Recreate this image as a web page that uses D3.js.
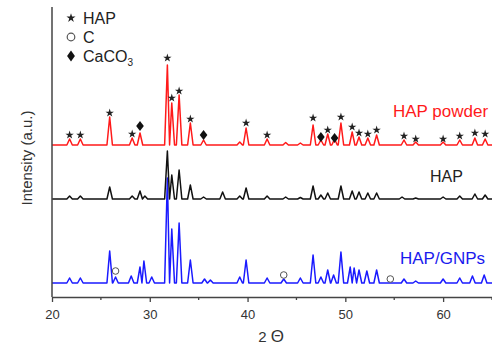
<!DOCTYPE html>
<html>
<head>
<meta charset="utf-8">
<script src="https://cdn.jsdelivr.net/npm/d3@7"></script>
<style>
  html, body { margin: 0; padding: 0; background: #fff; }
  svg { display: block; font-family: "Liberation Sans", Arial, sans-serif; }
</style>
</head>
<body>
<svg id="chart" width="492" height="346"></svg>
<script>
// ---- data (2θ in degrees, intensity in arbitrary units above each trace's baseline) ----
const xTicksMajor = [20, 30, 40, 50, 60];
const xTicksMinor = [25, 35, 45, 55, 65];

const seriesNames = ["HAP powder", "HAP", "HAP/GNPs"];
const seriesOffsets = [1520, 980, 140];

const redPeaks = [[21.8,60],[22.9,60],[25.9,280],[28.2,70],[29.0,120],[31.8,800],[32.25,420],[33.0,500],[34.15,220],[35.5,50],[39.2,30],[39.85,170],[42.0,60],[43.9,25],[45.4,20],[46.7,200],[47.5,50],[48.2,110],[48.9,60],[49.55,220],[50.7,130],[51.4,80],[52.3,70],[53.2,100],[56.0,50],[57.2,30],[60.0,30],[61.7,50],[63.25,70],[64.3,60]];
const blackPeaks = [[21.8,30],[22.9,30],[25.9,120],[28.2,30],[29.0,80],[29.5,30],[31.8,480],[32.25,240],[33.0,290],[34.15,140],[35.5,20],[37.45,70],[39.2,30],[39.85,110],[42.0,30],[43.9,20],[45.4,15],[46.7,130],[47.5,40],[48.2,60],[49.55,130],[50.7,80],[51.4,70],[52.3,60],[53.2,60],[55.8,20],[57.2,10],[60.0,20],[61.7,30],[63.25,50],[64.3,40]];
const bluePeaks = [[21.8,50],[22.9,50],[25.9,320],[26.5,60],[28.1,70],[29.0,160],[29.4,220],[30.2,60],[31.8,1050],[32.25,540],[33.0,600],[34.15,230],[35.6,40],[36.2,30],[39.2,60],[39.85,230],[42.0,50],[43.7,40],[45.4,50],[46.7,280],[47.5,60],[48.2,130],[48.8,80],[49.55,310],[50.5,160],[50.9,150],[51.4,130],[52.2,120],[53.2,130],[56.0,40],[57.2,20],[60.0,40],[61.7,50],[63.0,70],[64.2,80]];

// markers: [2θ, height above trace baseline]
const redStars = [[21.8,100],[22.9,100],[25.9,320],[28.2,110],[31.8,870],[32.25,470],[33.0,540],[34.15,260],[39.85,220],[42.0,100],[46.7,270],[48.2,150],[49.55,280],[50.7,180],[51.4,120],[52.3,110],[53.2,150],[56.0,90],[57.2,60],[60.0,60],[61.7,90],[63.25,120],[64.3,110]];
const redDiamonds = [[29.0,190],[35.5,100],[47.5,80],[48.9,70]];
const blueCircles = [[26.5,120],[43.7,80],[54.6,40]];

const legendItems = ["HAP", "C", "CaCO"];

// ---- layout ----
const svg = d3.select("#chart");
const x = d3.scaleLinear().domain([20, 65]).range([52, 492]);
const y = d3.scaleLinear().domain([0, 2900]).range([297, 7]);

function tracePoints(peaks) {
  const w = 0.28;
  const sorted = peaks.slice().sort((a, b) => a[0] - b[0]);
  const pts = [[20, 0]];
  sorted.forEach(([p, h], i) => {
    const prev = sorted[i - 1];
    const next = sorted[i + 1];
    if (prev && prev[0] + w > p - w) {
      pts.push([(prev[0] + p) / 2, 0]);
    } else {
      pts.push([p - w, 0]);
    }
    pts.push([p, h]);
    if (!(next && p + w > next[0] - w)) pts.push([p + w, 0]);
  });
  pts.push([65, 0]);
  return pts;
}

function drawTrace(peaks, offset, color) {
  const line = d3.line()
    .x(d => x(d[0]))
    .y(d => y(d[1] + offset))
    .curve(d3.curveLinear);
  svg.append("path")
    .datum(tracePoints(peaks))
    .attr("d", line)
    .attr("fill", "none")
    .attr("stroke", color)
    .attr("stroke-width", 1.5)
    .attr("stroke-linejoin", "round");
}

drawTrace(redPeaks, seriesOffsets[0], "#ff1a1a");
drawTrace(bluePeaks, seriesOffsets[2], "#1a1aff");
drawTrace(blackPeaks, seriesOffsets[1], "#111111");

// ---- markers ----
const starSym = d3.symbol().type(d3.symbolStar).size(22);
const diamondSym = d3.symbol().type(d3.symbolDiamond).size(30);

svg.append("g").selectAll("path").data(redStars).join("path")
  .attr("d", starSym)
  .attr("transform", d => `translate(${x(d[0])},${y(d[1] + seriesOffsets[0])})`)
  .attr("fill", "#222");

svg.append("g").selectAll("path").data(redDiamonds).join("path")
  .attr("d", diamondSym)
  .attr("transform", d => `translate(${x(d[0])},${y(d[1] + seriesOffsets[0])}) scale(1.3,1)`)
  .attr("fill", "#111");

svg.append("g").selectAll("circle").data(blueCircles).join("circle")
  .attr("cx", d => x(d[0]))
  .attr("cy", d => y(d[1] + seriesOffsets[2]))
  .attr("r", 3.3)
  .attr("fill", "#fff")
  .attr("stroke", "#555")
  .attr("stroke-width", 1);

// ---- axes ----
const axisColor = "#444";
const xAxis = svg.append("g").attr("transform", `translate(0,${y(0)})`)
  .call(d3.axisBottom(x).tickValues(xTicksMajor).tickSize(5).tickSizeOuter(0).tickFormat(d3.format("d")));
xAxis.select(".domain").attr("stroke", axisColor).attr("stroke-width", 1.5);
xAxis.selectAll(".tick line").attr("stroke", axisColor).attr("stroke-width", 1.3);
xAxis.selectAll(".tick text")
  .attr("font-size", 13).attr("fill", "#333")
  .attr("font-family", "Liberation Sans, Arial, sans-serif")
  .attr("dy", null).attr("y", 22);

svg.append("g").attr("transform", `translate(0,${y(0)})`)
  .selectAll("line").data(xTicksMinor).join("line")
  .attr("x1", d => x(d)).attr("x2", d => x(d))
  .attr("y1", 0).attr("y2", 3)
  .attr("stroke", axisColor).attr("stroke-width", 1.3);

svg.append("line")
  .attr("x1", x(20)).attr("x2", x(20))
  .attr("y1", y(2900)).attr("y2", y(0))
  .attr("stroke", axisColor).attr("stroke-width", 1.5);

// axis titles
const xt = svg.append("text")
  .attr("x", 271).attr("y", 342)
  .attr("text-anchor", "middle")
  .attr("font-size", 15).attr("fill", "#333");
xt.append("tspan").text("2 ");
xt.append("tspan").attr("font-size", 17).text("Θ");

svg.append("text")
  .attr("transform", "translate(32,158) rotate(-90)")
  .attr("text-anchor", "middle")
  .attr("font-size", 15).attr("fill", "#333")
  .text("Intensity (a.u.)");

// ---- series labels ----
svg.append("text").attr("x", 393).attr("y", 117)
  .attr("font-size", 17).attr("fill", "#ff1a1a").text(seriesNames[0]);
svg.append("text").attr("x", 430).attr("y", 182)
  .attr("font-size", 16).attr("fill", "#222").text(seriesNames[1]);
svg.append("text").attr("x", 400).attr("y", 264)
  .attr("font-size", 17).attr("fill", "#1a1aee").text(seriesNames[2]);

// ---- legend ----
const lg = svg.append("g");
lg.append("path").attr("d", d3.symbol().type(d3.symbolStar).size(26)())
  .attr("transform", "translate(71,18)").attr("fill", "#222");
lg.append("circle").attr("cx", 71).attr("cy", 37).attr("r", 3.8)
  .attr("fill", "#fff").attr("stroke", "#555").attr("stroke-width", 1.2);
lg.append("path").attr("d", d3.symbol().type(d3.symbolDiamond).size(34)())
  .attr("transform", "translate(71,56) scale(1.25,1)").attr("fill", "#111");

lg.append("text").attr("x", 83).attr("y", 24).attr("font-size", 16).attr("fill", "#222").text(legendItems[0]);
lg.append("text").attr("x", 83).attr("y", 43).attr("font-size", 16).attr("fill", "#222").text(legendItems[1]);
const caco = lg.append("text").attr("x", 83).attr("y", 62).attr("font-size", 16).attr("fill", "#222");
caco.append("tspan").text(legendItems[2]);
caco.append("tspan").attr("font-size", 10).attr("dy", 4).text("3");
</script>
</body>
</html>
